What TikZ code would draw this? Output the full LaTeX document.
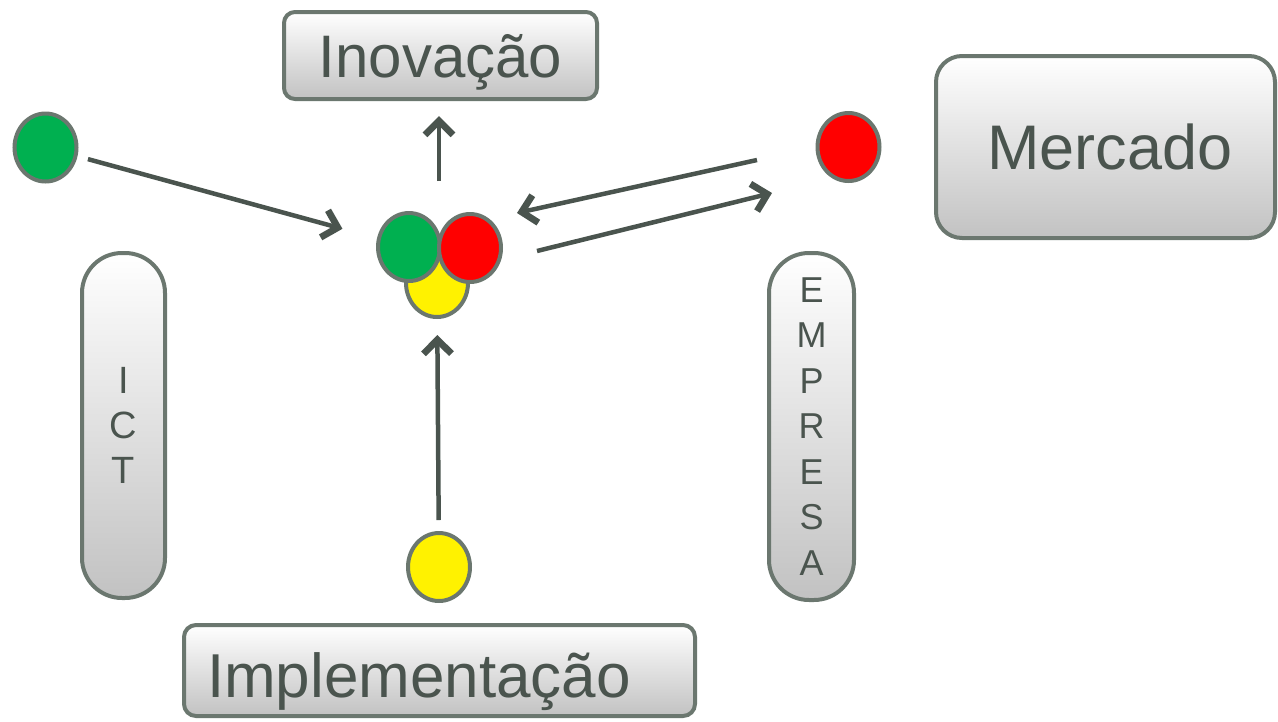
\documentclass[tikz,border=0pt]{standalone}
\usepackage{fontspec}
\setmainfont{Liberation Sans}
\usetikzlibrary{shapes.geometric,arrows.meta}
\definecolor{edge}{RGB}{107,119,111}
\definecolor{ink}{RGB}{74,84,78}
\definecolor{dotgreen}{RGB}{0,176,80}
\begin{document}
\begin{tikzpicture}[x=1pt,y=-1pt,
    box/.style={draw=edge, line width=4pt, top color=white, bottom color=black!24, text=ink, inner sep=0pt},
    dot/.style={ellipse, draw=edge, line width=4pt, minimum width=62pt, minimum height=68pt, inner sep=0pt},
    link/.style={draw=ink, line width=4.5pt, ->, >={Straight Barb[length=14pt,width=28pt,line width=0pt 1.5]}}]
    \useasboundingbox (0,0) rectangle (1278,721);
    % boxes
    \node[box, rounded corners=11pt, minimum width=313pt, minimum height=87pt, text height=43pt, text depth=0pt, font=\fontsize{60}{72}\selectfont] (inov) at (440.5,55.5) {Inovação};
    \node[box, rounded corners=26pt, minimum width=339pt, minimum height=182pt, text height=45pt, text depth=0pt, font=\fontsize{63}{76}\selectfont] (merc) at (1105.5,147) {\hspace*{9pt}Mercado};
    \node[box, rounded corners=40pt, minimum width=83pt, minimum height=345pt, align=center, font=\fontsize{38}{45}\selectfont] (ict) at (123.5,425.5) {I\\C\\T};
    \node[box, rounded corners=40pt, minimum width=85pt, minimum height=347pt, align=center, font=\fontsize{36}{45.5}\selectfont] (emp) at (811.5,426.5) {E\\M\\P\\R\\E\\S\\A};
    \node[box, rounded corners=12pt, minimum width=511pt, minimum height=91pt, text width=465pt, text height=53pt, text depth=0pt, align=left, font=\fontsize{62}{74}\selectfont] (impl) at (439.5,670.5) {Implementação};
    % dots
    \node[dot, fill=dotgreen] (gin) at (45.5,147.5) {};
    \node[dot, fill=red] (rin) at (848.5,147) {};
    \node[dot, fill=yellow] (yin) at (439,567) {};
    \node[dot, fill=yellow] (cy) at (437,283) {};
    \node[dot, fill=dotgreen] (cg) at (409,247) {};
    \node[dot, fill=red] (cr) at (470,248) {};
    % arrows
    \coordinate (mid) at (439,181);
    \coordinate (rbk) at (757,160);
    \coordinate (cbk) at (517,213);
    \coordinate (cfw) at (537,251);
    \coordinate (rfw) at (772,193);
    \draw[link, shorten <=44pt, shorten >=69pt] (gin.center) -- (cg.center);
    \draw[link, shorten >=15pt] (mid) -- (mid |- inov.south);
    \draw[link, shorten <=47pt, shorten >=52pt] (yin.center) -- (cy.center);
    \draw[link] (rbk) -- (cbk);
    \draw[link] (cfw) -- (rfw);
\end{tikzpicture}
\end{document}
